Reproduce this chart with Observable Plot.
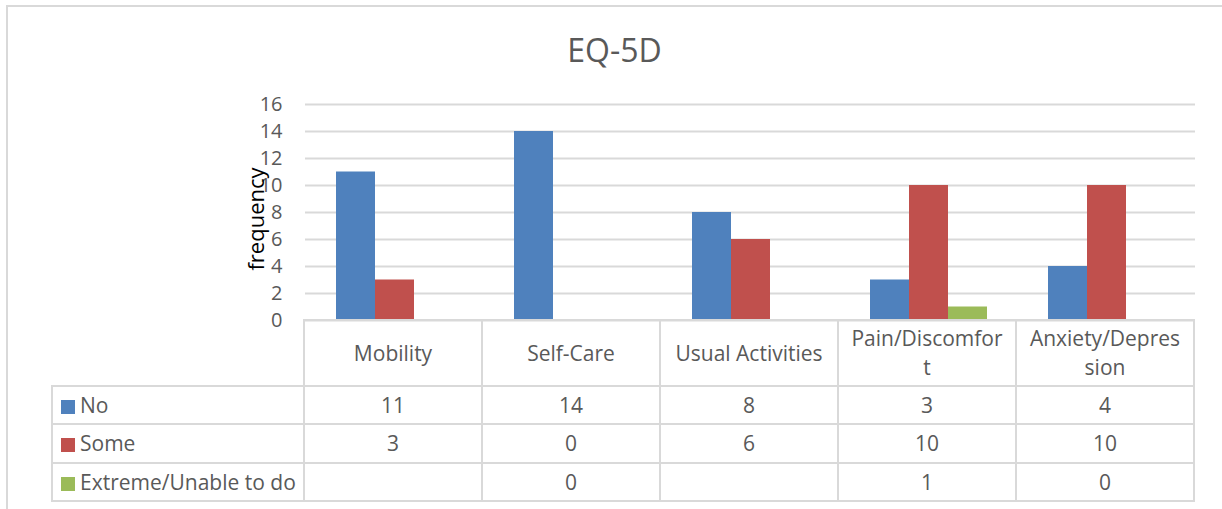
<!DOCTYPE html>
<html><head><meta charset="utf-8">
<script src="https://cdn.jsdelivr.net/npm/d3@7"></script>
<script src="https://cdn.jsdelivr.net/npm/@observablehq/plot@0.6"></script>
<style>
body{margin:0;background:#fff;font-family:"Open Sans",sans-serif;}
#wrap{position:relative;width:1222px;height:509px;overflow:hidden;background:#fff;}
#frame{position:absolute;left:6px;top:5px;width:1300px;height:600px;border-left:2px solid #d9d9d9;border-top:2px solid #d9d9d9;}
#title{position:absolute;left:7px;right:0;top:30px;height:40px;line-height:40px;text-align:center;font-size:32px;color:#595959;}
#ylabel{position:absolute;left:255px;top:219px;transform:translate(-50%,-50%) rotate(-90deg);font-size:22px;color:#000;white-space:nowrap;line-height:1;}
#chart{position:absolute;left:0;top:0;}
#tbl{position:absolute;border-collapse:collapse;table-layout:fixed;font-size:21px;color:#595959;}
#tbl td{border:2px solid #d9d9d9;text-align:center;padding:0;white-space:pre-line;}
#tbl td.leg{text-align:left;padding-left:8px;white-space:nowrap;}
.key{display:inline-block;width:14px;height:14px;margin-right:5px;vertical-align:-1px;}
</style></head>
<body><div id="wrap"><div id="frame"></div><div id="chart"></div><div id="title"></div><div id="ylabel"></div><table id="tbl"></table></div>
<script>
const title = "EQ-5D";
const yLabel = "frequency";
const categories = ["Mobility", "Self-Care", "Usual Activities", "Pain/Discomfort", "Anxiety/Depression"];
const categoryLabels = ["Mobility", "Self-Care", "Usual Activities", "Pain/Discomfor\nt", "Anxiety/Depres\nsion"];
const series = ["No", "Some", "Extreme/Unable to do"];
const colors = ["#4F81BD", "#C0504D", "#9BBB59"];
const noValues = [11, 14, 8, 3, 4];
const someValues = [3, 0, 6, 10, 10];
const extremeValues = [null, 0, null, 1, 0];
const yTicks = [0, 2, 4, 6, 8, 10, 12, 14, 16];

const valuesBySeries = [noValues, someValues, extremeValues];
const data = [];
series.forEach((s, si) => categories.forEach((c, ci) => {
  const v = valuesBySeries[si][ci];
  if (v != null) data.push({category: c, series: s, value: v});
}));

const W = 1222, H = 330, ML = 304, MR = 26, MT = 104, MB = 10;
const chart = Plot.plot({
  width: W, height: H, marginLeft: ML, marginRight: MR, marginTop: MT, marginBottom: MB,
  style: {fontFamily: "Open Sans", fontSize: "20px", color: "#595959", background: "transparent", overflow: "visible"},
  fx: {domain: categories, padding: 0, axis: null},
  x: {domain: series, paddingInner: 0, paddingOuter: 0.75, axis: null},
  y: {domain: [0, 16]},
  color: {domain: series, range: colors},
  marks: [
    Plot.gridY(yTicks, {stroke: "#d9d9d9", strokeOpacity: 1, strokeWidth: 2}),
    Plot.barY(data, {fx: "category", x: "series", y: "value", fill: "series"}),
    Plot.axisY(yTicks, {tickSize: 0, tickPadding: 23, label: null, fontSize: 20})
  ]
});
document.getElementById("chart").appendChild(chart);
document.getElementById("title").textContent = title;
document.getElementById("ylabel").textContent = yLabel;

// data table aligned with the fx scale
const fxs = chart.scale("fx");
const bw = fxs.bandwidth;
const left0 = 52;
const firstW = fxs.range[0] - left0;
const tbl = document.getElementById("tbl");
tbl.style.left = (left0 - 1) + "px";
tbl.style.top = (H - MB - 1) + "px";
tbl.style.width = (firstW + bw * categories.length) + "px";
let html = "<colgroup><col style='width:" + firstW + "px'>" + categories.map(() => "<col style='width:" + bw + "px'>").join("") + "</colgroup>";
html += "<tr style='height:66px'><td style='border-top:none;border-left:none'></td>" +
  categoryLabels.map(l => "<td style='line-height:29px'>" + l + "</td>").join("") + "</tr>";
series.forEach((s, si) => {
  html += "<tr style='height:38.3px'><td class='leg'><span class='key' style='background:" + colors[si] + "'></span>" + s + "</td>" +
    valuesBySeries[si].map(v => "<td>" + (v == null ? "" : v) + "</td>").join("") + "</tr>";
});
tbl.innerHTML = html;
</script></body></html>
